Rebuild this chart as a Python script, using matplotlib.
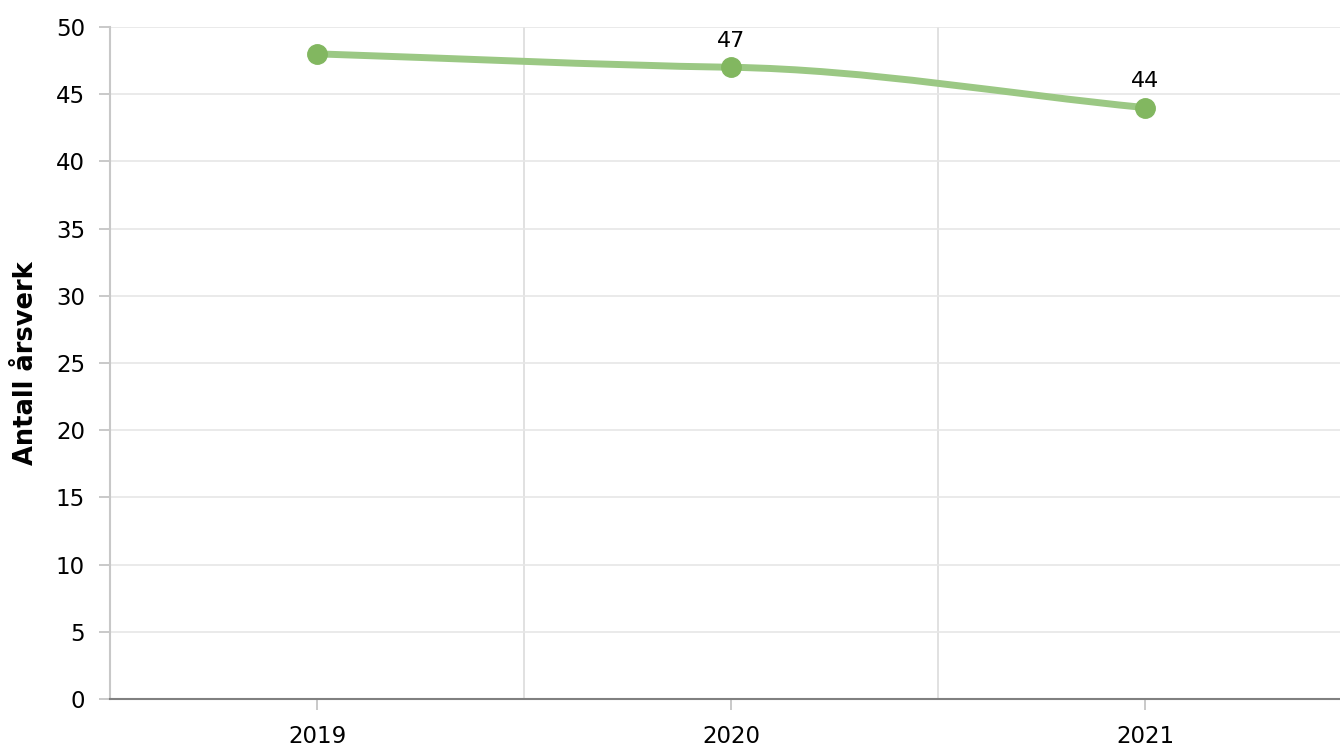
import matplotlib.pyplot as plt
from matplotlib.path import Path
from matplotlib.patches import PathPatch

# Data
years = ['2019', '2020', '2021']
aarsverk = [48, 47, 44]
show_label = [False, True, True]
y_ticks = [0, 5, 10, 15, 20, 25, 30, 35, 40, 45, 50]

LINE_COLOR = '#9bc884'
MARKER_COLOR = '#82b760'


def smooth_path(xs, ys, damping=0.5):
    """Smooth monotone curve through the points as cubic bezier segments."""
    n = len(xs)
    slopes = [(ys[i + 1] - ys[i]) / (xs[i + 1] - xs[i]) for i in range(n - 1)]
    tangents = [slopes[0]]
    for i in range(1, n - 1):
        s0, s1 = slopes[i - 1], slopes[i]
        if s0 * s1 <= 0:
            tangents.append(0.0)
        else:
            m = min(abs(s0), abs(s1)) * damping
            tangents.append(m if s0 > 0 else -m)
    tangents.append(slopes[-1])

    verts = [(xs[0], ys[0])]
    codes = [Path.MOVETO]
    for i in range(n - 1):
        dx = (xs[i + 1] - xs[i]) / 3
        verts += [(xs[i] + dx, ys[i] + tangents[i] * dx),
                  (xs[i + 1] - dx, ys[i + 1] - tangents[i + 1] * dx),
                  (xs[i + 1], ys[i + 1])]
        codes += [Path.CURVE4] * 3
    return Path(verts, codes)


fig = plt.figure(figsize=(13.4, 7.49), dpi=100)
ax = fig.add_axes([0.0821, 0.0668, 0.9179, 0.8972])

xs = list(range(len(years)))

# Smooth line + markers
ax.add_patch(PathPatch(smooth_path(xs, aarsverk), facecolor='none',
                       edgecolor=LINE_COLOR, lw=5, capstyle='round', zorder=3))
ax.plot(xs, aarsverk, 'o', color=MARKER_COLOR, markersize=14, zorder=4)

for x, v, show in zip(xs, aarsverk, show_label):
    if show:
        ax.annotate(str(v), (x, v), xytext=(0, 12), textcoords='offset points',
                    ha='center', va='bottom', fontsize=16, color='#000000')

ax.set_xlim(-0.5, 2.471)
ax.set_ylim(0, 50)
ax.set_xticks(xs)
ax.set_xticklabels(years)
ax.set_xticks([0.5, 1.5], minor=True)
ax.set_yticks(y_ticks)

ax.grid(axis='y', which='major', color='#e6e6e6', lw=1.2)
ax.grid(axis='x', which='minor', color='#dcdcdc', lw=1.2)
ax.set_axisbelow(True)

ax.tick_params(axis='both', which='major', labelsize=16.5, colors='#000000')
ax.tick_params(axis='y', length=8, width=1.2, color='#c0c0c0', pad=10)
ax.tick_params(axis='x', length=8, width=1.2, color='#c0c0c0', pad=11)
ax.tick_params(axis='x', which='minor', length=0)

for side in ['top', 'right']:
    ax.spines[side].set_visible(False)
ax.spines['left'].set_color('#c8c8c8')
ax.spines['left'].set_linewidth(1.5)
ax.spines['bottom'].set_color('#808080')
ax.spines['bottom'].set_linewidth(1.5)

ax.set_ylabel('Antall årsverk', fontsize=18.5, fontweight='bold', labelpad=12)

fig.savefig('out.png', dpi=100)
